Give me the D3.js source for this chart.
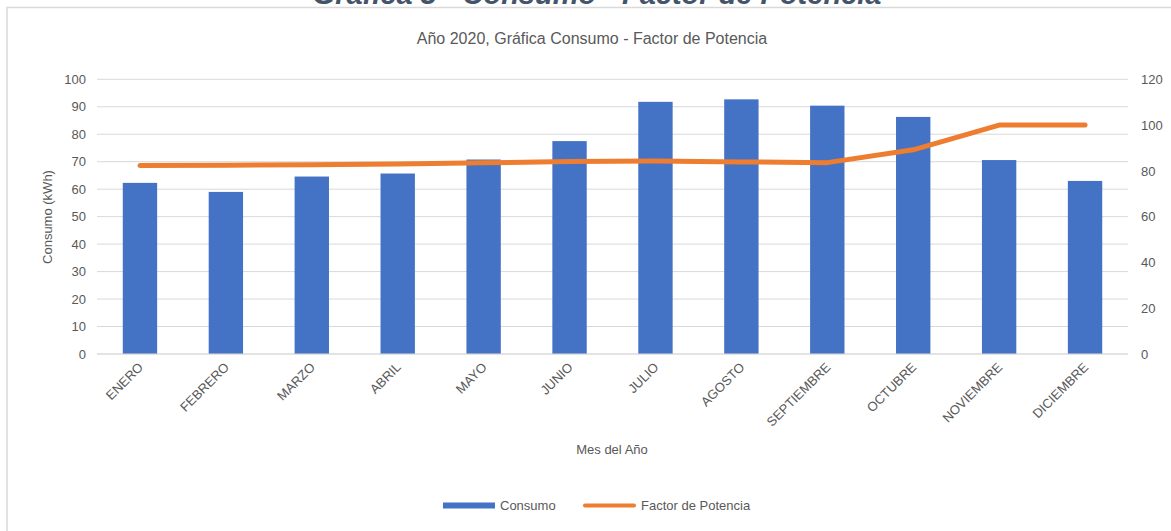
<!DOCTYPE html>
<html><head><meta charset="utf-8">
<script src="https://cdn.jsdelivr.net/npm/d3@7"></script>
<style>body{margin:0;background:#fff;}svg{display:block;font-family:"Liberation Sans",Arial,sans-serif;}</style>
</head><body>
<svg id="c" width="1171" height="531"></svg>
<script>
const months = ["ENERO","FEBRERO","MARZO","ABRIL","MAYO","JUNIO","JULIO","AGOSTO","SEPTIEMBRE","OCTUBRE","NOVIEMBRE","DICIEMBRE"];
const consumo = [62.3, 59, 64.6, 65.7, 70.8, 77.5, 91.8, 92.7, 90.4, 86.3, 70.6, 63];
const factor = [82.3, 82.5, 82.7, 83.0, 83.5, 84.1, 84.3, 83.9, 83.6, 89.2, 100, 100];
const leftTicks = [0,10,20,30,40,50,60,70,80,90,100];
const rightTicks = [0,20,40,60,80,100,120];

const svg = d3.select("#c");
const L = 97, R = 1128, T = 79.3, B = 354;
const x = d3.scaleBand().domain(months).range([L, R]).paddingInner(0.6).paddingOuter(0.3);
const xc = d => x(d) + x.bandwidth()/2;
const y = d3.scaleLinear().domain([0,100]).range([B, T]);
const y2 = d3.scaleLinear().domain([0,120]).range([B, T]);
const grey = "#595959";

// Chart border
svg.append("rect").attr("x",7).attr("y",7.5).attr("width",1200).attr("height",560)
  .attr("fill","none").attr("stroke","#d9d9d9").attr("stroke-width",1.5);

// Title (partially above the visible area, as in the source)
svg.append("text").attr("x",597).attr("y",4).attr("text-anchor","middle")
  .attr("font-size",29).attr("font-weight","bold").attr("font-style","italic")
  .attr("fill","#44546A").text("Gráfica 3 - Consumo - Factor de Potencia");

svg.append("text").attr("x",592).attr("y",44).attr("text-anchor","middle")
  .attr("font-size",16).attr("fill",grey).text("Año 2020, Gráfica Consumo - Factor de Potencia");

// gridlines
svg.append("g").selectAll("line").data(leftTicks).join("line")
  .attr("x1",L).attr("x2",R).attr("y1",d=>y(d)).attr("y2",d=>y(d))
  .attr("stroke","#d9d9d9").attr("stroke-width",1);

// left axis
const la = svg.append("g").attr("transform",`translate(${L},0)`)
  .call(d3.axisLeft(y).tickValues(leftTicks).tickSize(0).tickPadding(11));
la.select(".domain").remove();
la.selectAll("text").attr("font-size",13).attr("fill",grey).attr("font-family","Liberation Sans, Arial, sans-serif");

// right axis
const ra = svg.append("g").attr("transform",`translate(${R},0)`)
  .call(d3.axisRight(y2).tickValues(rightTicks).tickSize(0).tickPadding(13));
ra.select(".domain").remove();
ra.selectAll("text").attr("font-size",13).attr("fill",grey).attr("font-family","Liberation Sans, Arial, sans-serif");

// bars
svg.append("g").selectAll("rect").data(months).join("rect")
  .attr("x",d=>x(d)).attr("width",x.bandwidth())
  .attr("y",(d,i)=>y(consumo[i])).attr("height",(d,i)=>B - y(consumo[i]))
  .attr("fill","#4472C4");

// baseline
svg.append("line").attr("x1",L).attr("x2",R).attr("y1",B).attr("y2",B)
  .attr("stroke","#d9d9d9").attr("stroke-width",1.2);

// line
const line = d3.line().x((d,i)=>xc(months[i])).y(d=>y2(d));
svg.append("path").datum(factor).attr("d",line).attr("fill","none")
  .attr("stroke","#ED7D31").attr("stroke-width",5).attr("stroke-linecap","round").attr("stroke-linejoin","round");

// x labels
const xa = svg.append("g").attr("transform",`translate(0,${B})`)
  .call(d3.axisBottom(x).tickSize(0).tickPadding(0));
xa.select(".domain").remove();
xa.selectAll("text").attr("font-size",13).attr("fill",grey)
  .attr("font-family","Liberation Sans, Arial, sans-serif")
  .attr("text-anchor","end").attr("dy",0)
  .attr("transform","translate(4,14) rotate(-45)");

svg.append("text").attr("x",612).attr("y",454).attr("text-anchor","middle")
  .attr("font-size",13).attr("fill",grey).text("Mes del Año");

svg.append("text").attr("transform",`translate(52,217) rotate(-90)`).attr("text-anchor","middle")
  .attr("font-size",13).attr("fill",grey).text("Consumo (kWh)");

// legend
svg.append("rect").attr("x",443).attr("y",502.5).attr("width",52).attr("height",6).attr("fill","#4472C4");
svg.append("text").attr("x",500).attr("y",510).attr("font-size",13).attr("fill",grey).text("Consumo");
svg.append("line").attr("x1",585).attr("x2",634).attr("y1",505.5).attr("y2",505.5)
  .attr("stroke","#ED7D31").attr("stroke-width",4).attr("stroke-linecap","round");
svg.append("text").attr("x",641).attr("y",510).attr("font-size",13).attr("fill",grey).text("Factor de Potencia");
</script>
</body></html>
